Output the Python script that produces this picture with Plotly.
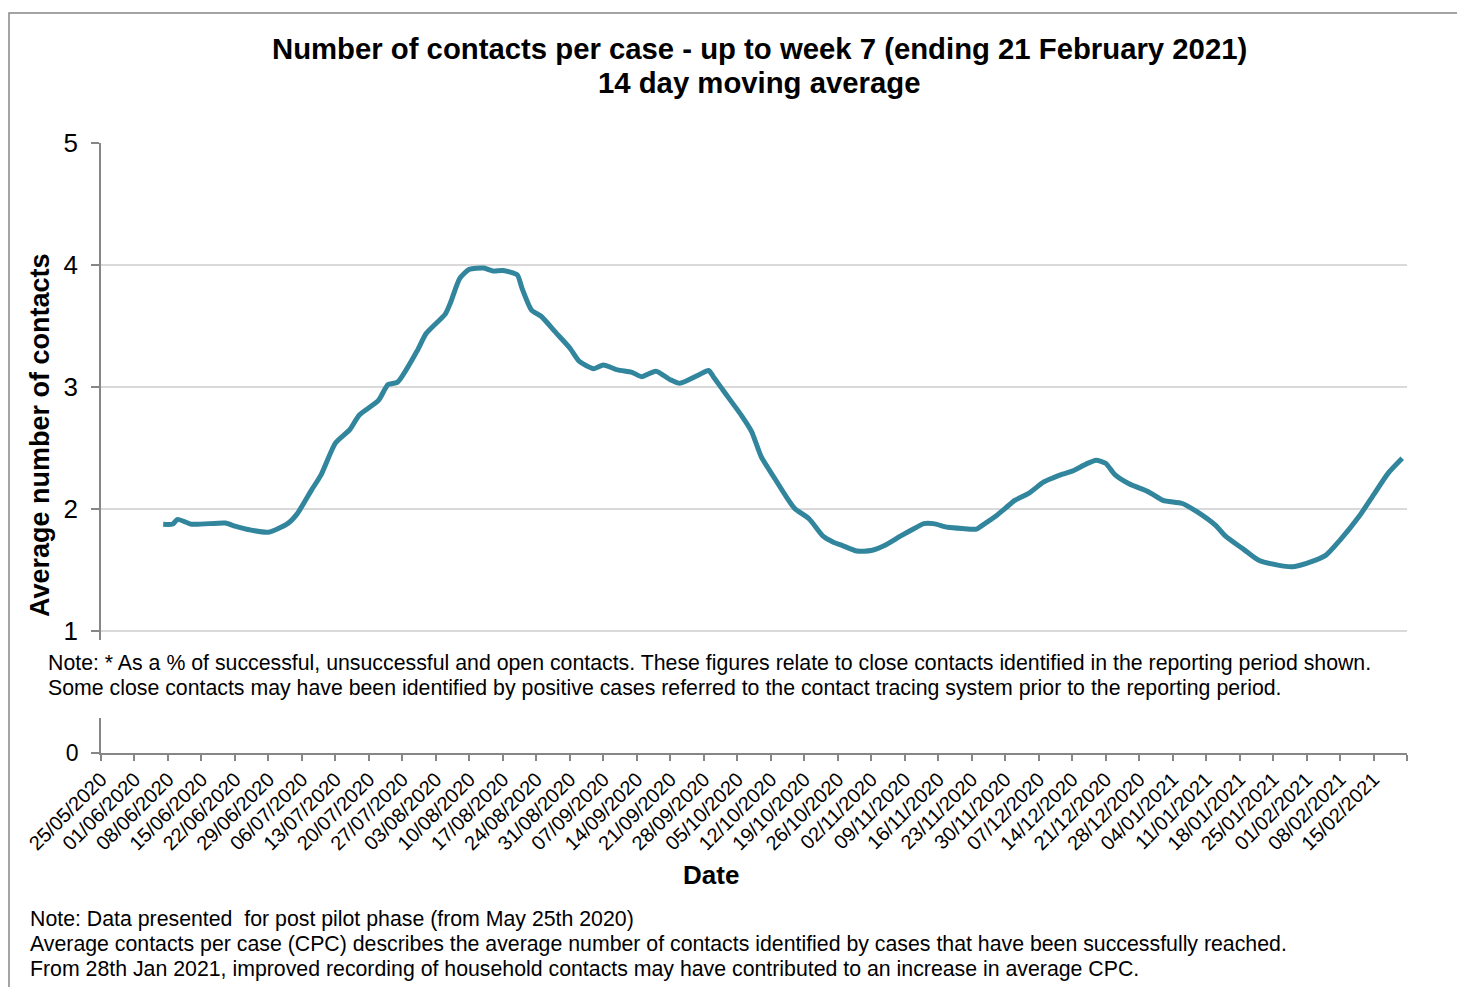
import plotly.graph_objects as go

# ---- data ----
dates = [
    "2020-06-07", "2020-06-09", "2020-06-10", "2020-06-13", "2020-06-20", "2020-06-22",
    "2020-06-25", "2020-06-29", "2020-07-03", "2020-07-05", "2020-07-08", "2020-07-10",
    "2020-07-13", "2020-07-16", "2020-07-18", "2020-07-22", "2020-07-24", "2020-07-26",
    "2020-07-30", "2020-08-01", "2020-08-05", "2020-08-06", "2020-08-08", "2020-08-10",
    "2020-08-13", "2020-08-15", "2020-08-17", "2020-08-20", "2020-08-21", "2020-08-23",
    "2020-08-25", "2020-08-28", "2020-08-31", "2020-09-02", "2020-09-05", "2020-09-07",
    "2020-09-10", "2020-09-13", "2020-09-15", "2020-09-18", "2020-09-21", "2020-09-23",
    "2020-09-27", "2020-09-29", "2020-09-30", "2020-10-02", "2020-10-06", "2020-10-08",
    "2020-10-10", "2020-10-13", "2020-10-15", "2020-10-17", "2020-10-20", "2020-10-23",
    "2020-10-25", "2020-10-27", "2020-10-30", "2020-11-02", "2020-11-05", "2020-11-08",
    "2020-11-11", "2020-11-13", "2020-11-15", "2020-11-18", "2020-11-21", "2020-11-24",
    "2020-11-25", "2020-11-28", "2020-11-30", "2020-12-02", "2020-12-05", "2020-12-08",
    "2020-12-10", "2020-12-12", "2020-12-14", "2020-12-17", "2020-12-19", "2020-12-21",
    "2020-12-23", "2020-12-26", "2020-12-30", "2021-01-02", "2021-01-06", "2021-01-09",
    "2021-01-13", "2021-01-15", "2021-01-19", "2021-01-22", "2021-01-26", "2021-01-29",
    "2021-02-01", "2021-02-05", "2021-02-08", "2021-02-12", "2021-02-15", "2021-02-18",
    "2021-02-21",
]
contacts_per_case = [
    1.875, 1.877, 1.915, 1.875, 1.885, 1.86,
    1.83, 1.81, 1.88, 1.96, 2.155, 2.28,
    2.54, 2.65, 2.77, 2.89, 3.02, 3.04,
    3.29, 3.44, 3.60, 3.685, 3.89, 3.965,
    3.975, 3.95, 3.955, 3.92, 3.81, 3.63,
    3.58, 3.45, 3.32, 3.21, 3.15, 3.18,
    3.14, 3.12, 3.085, 3.13, 3.06, 3.03,
    3.10, 3.135, 3.085, 2.975, 2.76, 2.635,
    2.43, 2.24, 2.115, 2.005, 1.92, 1.775,
    1.73, 1.70, 1.655, 1.66, 1.705, 1.775,
    1.84, 1.88, 1.88, 1.85, 1.84, 1.835,
    1.86, 1.94, 2.005, 2.07, 2.13, 2.22,
    2.255, 2.285, 2.31, 2.37, 2.40, 2.375,
    2.28, 2.205, 2.14, 2.07, 2.045, 1.98,
    1.865, 1.78, 1.665, 1.58, 1.54, 1.527,
    1.555, 1.62, 1.745, 1.94, 2.115, 2.29,
    2.415,
]

tick_dates = [
    "2020-05-25", "2020-06-01", "2020-06-08", "2020-06-15", "2020-06-22", "2020-06-29",
    "2020-07-06", "2020-07-13", "2020-07-20", "2020-07-27", "2020-08-03", "2020-08-10",
    "2020-08-17", "2020-08-24", "2020-08-31", "2020-09-07", "2020-09-14", "2020-09-21",
    "2020-09-28", "2020-10-05", "2020-10-12", "2020-10-19", "2020-10-26", "2020-11-02",
    "2020-11-09", "2020-11-16", "2020-11-23", "2020-11-30", "2020-12-07", "2020-12-14",
    "2020-12-21", "2020-12-28", "2021-01-04", "2021-01-11", "2021-01-18", "2021-01-25",
    "2021-02-01", "2021-02-08", "2021-02-15", "2021-02-22",
]
tick_labels = [
    "25/05/2020", "01/06/2020", "08/06/2020", "15/06/2020", "22/06/2020", "29/06/2020",
    "06/07/2020", "13/07/2020", "20/07/2020", "27/07/2020", "03/08/2020", "10/08/2020",
    "17/08/2020", "24/08/2020", "31/08/2020", "07/09/2020", "14/09/2020", "21/09/2020",
    "28/09/2020", "05/10/2020", "12/10/2020", "19/10/2020", "26/10/2020", "02/11/2020",
    "09/11/2020", "16/11/2020", "23/11/2020", "30/11/2020", "07/12/2020", "14/12/2020",
    "21/12/2020", "28/12/2020", "04/01/2021", "11/01/2021", "18/01/2021", "25/01/2021",
    "01/02/2021", "08/02/2021", "15/02/2021", "",
]

title_line1 = "Number of contacts per case - up to week 7 (ending 21 February 2021)"
title_line2 = "14 day moving average"
y_title = "Average number of contacts"
x_title = "Date"
note_mid = [
    "Note: * As a % of successful, unsuccessful and open contacts. These figures relate to close contacts identified in the reporting period shown.",
    "Some close contacts may have been identified by positive cases referred to the contact tracing system prior to the reporting period.",
]
note_bottom = [
    "Note: Data presented  for post pilot phase (from May 25th 2020)",
    "Average contacts per case (CPC) describes the average number of contacts identified by cases that have been successfully reached.",
    "From 28th Jan 2021, improved recording of household contacts may have contributed to an increase in average CPC.",
]

# ---- layout geometry (pixels of a 1457x987 canvas) ----
W, H = 1457, 987
FONT = "Arial, Liberation Sans, sans-serif"
AXIS_GREY = "#868686"
GRID_GREY = "#D9D9D9"
LINE_COLOR = "#31859C"


def px(x):
    return x / W


def py(y):
    return 1 - y / H


x_range = ["2020-05-25", "2021-02-22"]

fig = go.Figure()
fig.add_trace(go.Scatter(
    x=dates, y=contacts_per_case, mode="lines",
    line=dict(color=LINE_COLOR, width=5, shape="spline", smoothing=0.6),
    xaxis="x", yaxis="y", showlegend=False, hoverinfo="x+y",
))
# empty trace to materialise the lower (broken-axis) panel
fig.add_trace(go.Scatter(x=[x_range[0]], y=[None], mode="lines",
                         xaxis="x2", yaxis="y2", showlegend=False))

fig.update_layout(
    width=W, height=H,
    margin=dict(l=0, r=0, t=0, b=0, pad=0, autoexpand=False),
    paper_bgcolor="white", plot_bgcolor="white",
    font=dict(family=FONT, color="black"),
    xaxis=dict(
        domain=[px(101), px(1407)], range=x_range, type="date",
        anchor="y", showticklabels=False, showgrid=False, showline=False,
        zeroline=False, ticks="", automargin=False,
    ),
    yaxis=dict(
        domain=[py(640), py(143)], range=[1 - 9 / 122, 5],
        anchor="x", tickvals=[1, 2, 3, 4, 5], ticktext=["1", "2", "3", "4", "5"],
        showgrid=True, gridcolor=GRID_GREY, gridwidth=2,
        showline=True, linecolor=AXIS_GREY, linewidth=1.5,
        ticks="outside", ticklen=8, tickcolor=AXIS_GREY, tickwidth=1.5,
        tickfont=dict(size=26, color="black", family=FONT),
        ticklabelstandoff=8, zeroline=False, automargin=False,
    ),
    xaxis2=dict(
        domain=[px(101), px(1407)], range=x_range, type="date",
        anchor="y2", tickmode="array", tickvals=tick_dates, ticktext=tick_labels,
        tickangle=-45, tickfont=dict(size=20, color="black", family=FONT),
        showline=True, linecolor=AXIS_GREY, linewidth=1.5,
        ticks="outside", ticklen=6, tickcolor=AXIS_GREY, tickwidth=1.5,
        ticklabelstandoff=-1,
        showgrid=False, zeroline=False, automargin=False,
    ),
    yaxis2=dict(
        domain=[py(753), py(718)], range=[0, 35 / 122],
        anchor="x2", tickvals=[0], ticktext=["0"],
        showline=True, linecolor=AXIS_GREY, linewidth=1.5,
        ticks="outside", ticklen=8, tickcolor=AXIS_GREY, tickwidth=1.5,
        tickfont=dict(size=23, color="black", family=FONT),
        ticklabelstandoff=8, showgrid=False, zeroline=False, automargin=False,
    ),
)

ann = []
ann.append(dict(text="<b>" + title_line1 + "</b>", x=px(759), y=py(48),
                font=dict(size=29.3, family=FONT, color="black")))
ann.append(dict(text="<b>" + title_line2 + "</b>", x=px(759), y=py(82),
                font=dict(size=29.3, family=FONT, color="black")))
ann.append(dict(text="<b>" + y_title + "</b>", x=px(40), y=py(435), textangle=-90,
                font=dict(size=27, family=FONT, color="black")))
ann.append(dict(text="<b>" + x_title + "</b>", x=px(711), y=py(875),
                font=dict(size=26, family=FONT, color="black")))
for i, t in enumerate(note_mid):
    ann.append(dict(text=t, x=px(46), y=py(663 + 25 * i), xanchor="left",
                    font=dict(size=21.3, family=FONT, color="black")))
for i, t in enumerate(note_bottom):
    ann.append(dict(text=t, x=px(28), y=py(919 + 25 * i), xanchor="left",
                    font=dict(size=21.3, family=FONT, color="black")))
for a in ann:
    a.setdefault("xanchor", "center")
    a.update(xref="paper", yref="paper", yanchor="middle", showarrow=False)
fig.update_layout(annotations=ann)

# chart-area border (partially outside the photographed window)
fig.add_shape(type="rect", xref="paper", yref="paper",
              x0=px(9), x1=px(W + 20), y0=py(H + 20), y1=py(13),
              line=dict(color=AXIS_GREY, width=1.5), fillcolor="rgba(0,0,0,0)",
              layer="below")

fig.write_html("out.html", config={"displayModeBar": False},
               post_script="document.body.style.margin='0';document.body.style.overflow='hidden';")
